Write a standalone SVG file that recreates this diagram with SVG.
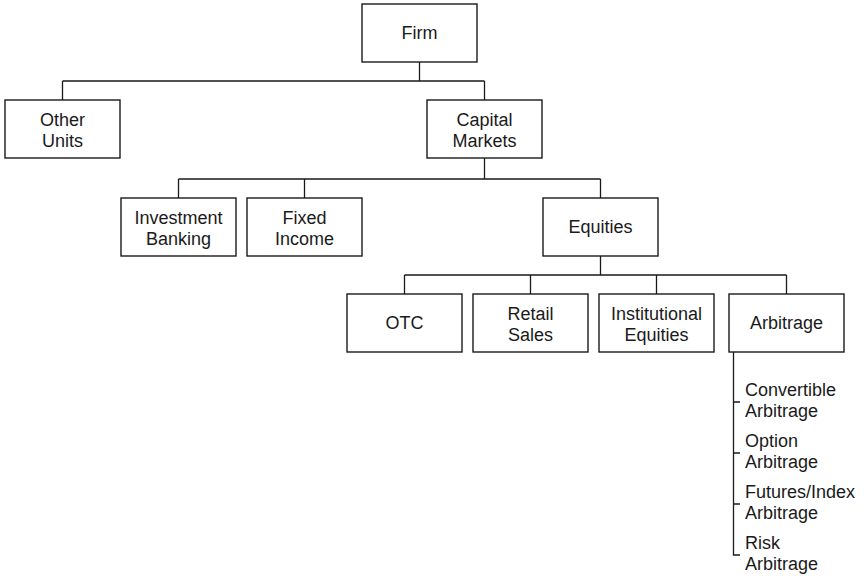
<svg xmlns="http://www.w3.org/2000/svg" width="864" height="580" viewBox="0 0 864 580">
<style>
.box{fill:#fff;stroke:#1a1a1a;stroke-width:1.4}
.ln{fill:none;stroke:#1a1a1a;stroke-width:1.3}
text{font-family:"Liberation Sans",Arial,sans-serif;font-size:18px;fill:#1a1a1a;text-anchor:middle}
.l{text-anchor:start}
</style>
<rect width="864" height="580" fill="#fff"/>
<g id="connectors">
<path class="ln" d="M419.5 62V81M62.5 81H484.5M62.5 81V100M484.5 81V100"/>
<path class="ln" d="M484.5 158V179M178.5 179H600.5M178.5 179V198M304.5 179V198M600.5 179V198"/>
<path class="ln" d="M600.5 256V275M404.5 275H786.5M404.5 275V294M530.5 275V294M656.5 275V294M786.5 275V294"/>
<path class="ln" d="M733.5 352V555H740M733.5 402H740M733.5 453H740M733.5 504H740"/>
</g>
<g id="firm"><rect class="box" x="362" y="4" width="115" height="58"/><text x="419.5" y="39">Firm</text></g>
<g id="other-units"><rect class="box" x="5" y="100" width="115" height="58"/><text x="62.5" y="126">Other</text><text x="62.5" y="147">Units</text></g>
<g id="capital-markets"><rect class="box" x="427" y="100" width="115" height="58"/><text x="484.5" y="126">Capital</text><text x="484.5" y="147">Markets</text></g>
<g id="investment-banking"><rect class="box" x="121" y="198" width="115" height="58"/><text x="178.5" y="224">Investment</text><text x="178.5" y="245">Banking</text></g>
<g id="fixed-income"><rect class="box" x="247" y="198" width="115" height="58"/><text x="304.5" y="224">Fixed</text><text x="304.5" y="245">Income</text></g>
<g id="equities"><rect class="box" x="543" y="198" width="115" height="58"/><text x="600.5" y="233">Equities</text></g>
<g id="otc"><rect class="box" x="347" y="294" width="115" height="58"/><text x="404.5" y="329">OTC</text></g>
<g id="retail-sales"><rect class="box" x="473" y="294" width="115" height="58"/><text x="530.5" y="320">Retail</text><text x="530.5" y="341">Sales</text></g>
<g id="institutional-equities"><rect class="box" x="599" y="294" width="115" height="58"/><text x="656.5" y="320">Institutional</text><text x="656.5" y="341">Equities</text></g>
<g id="arbitrage"><rect class="box" x="729" y="294" width="115" height="58"/><text x="786.5" y="329">Arbitrage</text></g>
<g id="arbitrage-list">
<text class="l" x="745" y="396">Convertible</text><text class="l" x="745" y="417">Arbitrage</text>
<text class="l" x="745" y="447">Option</text><text class="l" x="745" y="468">Arbitrage</text>
<text class="l" x="745" y="498">Futures/Index</text><text class="l" x="745" y="519">Arbitrage</text>
<text class="l" x="745" y="549">Risk</text><text class="l" x="745" y="570">Arbitrage</text>
</g>
</svg>
